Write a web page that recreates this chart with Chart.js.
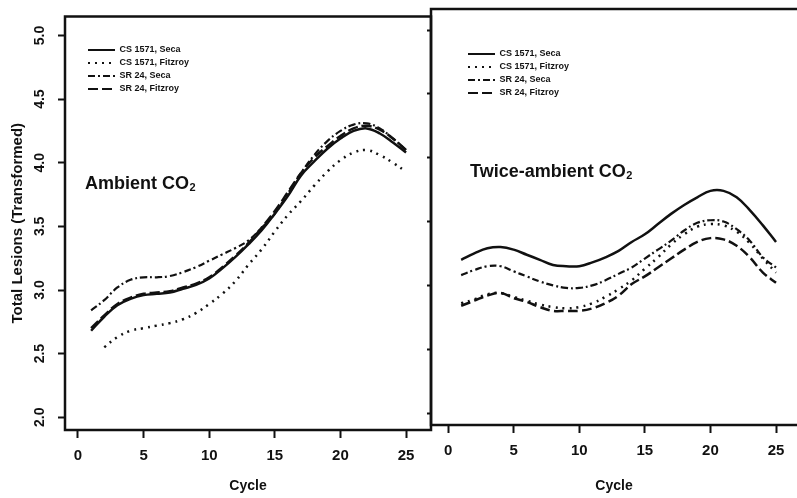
<!DOCTYPE html>
<html>
<head>
<meta charset="utf-8">
<script src="https://cdn.jsdelivr.net/npm/chart.js@4/dist/chart.umd.min.js"></script>
<style>
  html, body { margin: 0; padding: 0; background: #fff; }
  #wrap { position: relative; width: 797px; height: 498px; overflow: hidden; }
  #left { position: absolute; left: 0; top: 0; }
  #right { position: absolute; left: 424px; top: 0; }
</style>
</head>
<body>
<div id="wrap">
  <canvas id="left" width="440" height="498"></canvas>
  <canvas id="right" width="373" height="498"></canvas>
</div>
<script>
// dados
const cycles = [1, 2, 3, 4, 5, 6, 7, 8, 9, 10, 11, 12, 13, 14, 15, 16, 17, 18, 19, 20, 21, 22, 23, 24, 25];
const xTicks = [0, 5, 10, 15, 20, 25];
const yTicks = [2.0, 2.5, 3.0, 3.5, 4.0, 4.5, 5.0];
const seriesNames = ['CS 1571, Seca', 'CS 1571, Fitzroy', 'SR 24, Seca', 'SR 24, Fitzroy'];

// Ambient CO2
const ambCsSeca = [2.68, 2.79, 2.88, 2.93, 2.96, 2.97, 2.98, 3.01, 3.04, 3.09, 3.17, 3.26, 3.36, 3.47, 3.60, 3.74, 3.90, 4.01, 4.11, 4.19, 4.25, 4.27, 4.23, 4.16, 4.08];
const ambCsFitz = [null, 2.55, 2.63, 2.68, 2.70, 2.72, 2.74, 2.77, 2.82, 2.89, 2.97, 3.07, 3.20, 3.32, 3.46, 3.59, 3.70, 3.82, 3.93, 4.02, 4.08, 4.10, 4.06, 4.00, 3.93];
const ambSrSeca = [2.84, 2.92, 3.02, 3.08, 3.10, 3.10, 3.11, 3.14, 3.18, 3.23, 3.28, 3.33, 3.39, 3.49, 3.60, 3.76, 3.92, 4.06, 4.17, 4.25, 4.30, 4.31, 4.27, 4.19, 4.10];
const ambSrFitz = [2.70, 2.80, 2.89, 2.94, 2.97, 2.98, 2.99, 3.02, 3.05, 3.10, 3.18, 3.27, 3.37, 3.49, 3.62, 3.77, 3.92, 4.04, 4.13, 4.21, 4.27, 4.29, 4.26, 4.19, 4.10];

// Twice-ambient CO2
const twiceCsSeca = [3.20, 3.25, 3.29, 3.30, 3.28, 3.24, 3.20, 3.16, 3.15, 3.15, 3.18, 3.22, 3.27, 3.34, 3.40, 3.48, 3.56, 3.63, 3.69, 3.74, 3.74, 3.69, 3.59, 3.47, 3.34];
const twiceCsFitz = [2.86, 2.89, 2.93, 2.94, 2.91, 2.88, 2.85, 2.83, 2.82, 2.83, 2.86, 2.91, 2.97, 3.04, 3.13, 3.22, 3.32, 3.40, 3.46, 3.48, 3.47, 3.42, 3.33, 3.21, 3.10];
const twiceSrSeca = [3.08, 3.12, 3.15, 3.15, 3.11, 3.07, 3.03, 3.00, 2.98, 2.98, 3.00, 3.04, 3.09, 3.14, 3.21, 3.28, 3.35, 3.43, 3.49, 3.51, 3.50, 3.44, 3.35, 3.22, 3.14];
const twiceSrFitz = [2.84, 2.88, 2.92, 2.94, 2.90, 2.87, 2.83, 2.80, 2.80, 2.80, 2.82, 2.86, 2.92, 3.01, 3.07, 3.14, 3.21, 3.28, 3.34, 3.37, 3.36, 3.31, 3.22, 3.10, 3.02];

Chart.defaults.font.family = "'Liberation Sans', Arial, sans-serif";
Chart.defaults.font.weight = 'bold';
Chart.defaults.color = '#111';
Chart.defaults.animation = false;

const estilos = [
    { borderDash: [], borderWidth: 2.5 },
    { borderDash: [2, 5], borderWidth: 2.5 },
    { borderDash: [7, 3, 2, 3], borderWidth: 2.2 },
    { borderDash: [10, 4], borderWidth: 2.5 }
];

function montarDatasets(listas) {
    return listas.map((vals, i) => ({
        label: seriesNames[i],
        data: cycles.map((c, j) => ({ x: c, y: vals[j] })),
        borderColor: '#111',
        backgroundColor: '#111',
        borderDash: estilos[i].borderDash,
        borderWidth: estilos[i].borderWidth,
        pointRadius: 0,
        tension: 0.4,
        fill: false
    }));
}

// legenda com o traço de cada série
function rotulosLegenda(chart) {
    return chart.data.datasets.map((ds, i) => ({
        text: ds.label,
        datasetIndex: i,
        fillStyle: '#111',
        strokeStyle: '#111',
        fontColor: '#111',
        lineWidth: 2,
        lineDash: ds.borderDash,
        lineCap: 'butt',
        pointStyle: 'line',
        hidden: false
    }));
}

// moldura + rótulo do painel + posição da legenda
function painelPlugin(cfg) {
    return {
        id: 'painel',
        afterLayout(chart) {
            chart.legend.left = cfg.legendX;
            chart.legend.top = cfg.legendY;
        },
        afterDraw(chart) {
            const { ctx, chartArea: a } = chart;
            ctx.save();
            ctx.strokeStyle = '#111';
            ctx.lineWidth = 2.5;
            ctx.beginPath();
            if (cfg.right) {
                ctx.moveTo(a.right, a.top);
                ctx.lineTo(a.left, a.top);
                ctx.lineTo(a.left, a.bottom);
                ctx.lineTo(a.right, a.bottom);
            } else {
                ctx.rect(a.left, a.top, a.right - a.left, a.bottom - a.top);
            }
            ctx.stroke();
            ctx.fillStyle = '#111';
            ctx.textBaseline = 'alphabetic';
            ctx.font = "bold 18px 'Liberation Sans', Arial, sans-serif";
            ctx.fillText(cfg.titulo, cfg.tx, cfg.ty);
            const w = ctx.measureText(cfg.titulo).width;
            ctx.font = "bold 11px 'Liberation Sans', Arial, sans-serif";
            ctx.fillText('2', cfg.tx + w + 0.5, cfg.ty + 2);
            ctx.restore();
        }
    };
}

function opcoes(cfg) {
    return {
        responsive: false,
        maintainAspectRatio: false,
        layout: { padding: cfg.padding },
        plugins: {
            legend: {
                position: 'chartArea',
                align: 'start',
                labels: {
                    usePointStyle: true,
                    pointStyle: 'line',
                    pointStyleWidth: 27,
                    padding: 4,
                    color: '#111',
                    font: { size: 9, weight: 'bold' },
                    generateLabels: rotulosLegenda
                }
            },
            tooltip: { enabled: false }
        },
        scales: {
            x: {
                type: 'linear',
                min: cfg.xMin,
                max: cfg.xMax,
                afterBuildTicks: s => { s.ticks = xTicks.map(v => ({ value: v })); },
                afterFit: s => { s.height = cfg.xHeight; },
                border: { display: false },
                grid: { drawOnChartArea: false, drawTicks: true, tickLength: 8, tickWidth: 2, tickColor: '#111' },
                ticks: { padding: 9, font: { size: 15 }, maxRotation: 0, color: '#111' },
                title: { display: true, text: 'Cycle', font: { size: 14 }, padding: { top: 0, bottom: 3 }, color: '#111' }
            },
            y: {
                type: 'linear',
                min: cfg.yMin,
                max: cfg.yMax,
                afterBuildTicks: s => { s.ticks = yTicks.map(v => ({ value: v })); },
                afterFit: s => { s.width = cfg.yWidth; },
                border: { display: false },
                grid: { drawOnChartArea: false, drawTicks: true, tickLength: cfg.yTickLen, tickWidth: 2, tickColor: '#111' },
                ticks: {
                    display: cfg.yLabels,
                    minRotation: 90,
                    maxRotation: 90,
                    crossAlign: 'center',
                    padding: 8,
                    font: { size: 14 },
                    color: '#111',
                    callback: v => v.toFixed(1)
                },
                title: {
                    display: cfg.yLabels,
                    text: 'Total Lesions (Transformed)',
                    font: { size: 15 },
                    padding: { top: 9, bottom: 0 },
                    color: '#111'
                }
            }
        }
    };
}

new Chart(document.getElementById('left'), {
    type: 'line',
    data: { datasets: montarDatasets([ambCsSeca, ambCsFitz, ambSrSeca, ambSrFitz]) },
    options: opcoes({
        padding: { top: 12, right: 9, left: 0, bottom: 0 },
        xMin: -0.99, xMax: 26.9, yMin: 1.9, yMax: 5.15,
        xHeight: 68, yWidth: 65, yTickLen: 7, yLabels: true
    }),
    plugins: [painelPlugin({ right: false, titulo: 'Ambient CO', tx: 85, ty: 189, legendX: 84, legendY: 41.5 })]
});

new Chart(document.getElementById('right'), {
    type: 'line',
    data: { datasets: montarDatasets([twiceCsSeca, twiceCsFitz, twiceSrSeca, twiceSrFitz]) },
    options: opcoes({
        padding: { top: 9, right: 0, left: 0, bottom: 0 },
        xMin: -1.3, xMax: 26.6, yMin: 1.906, yMax: 5.165,
        xHeight: 73, yWidth: 7, yTickLen: 4, yLabels: false
    }),
    plugins: [painelPlugin({ right: true, titulo: 'Twice-ambient CO', tx: 46, ty: 177, legendX: 40, legendY: 45.5 })]
});
</script>
</body>
</html>
